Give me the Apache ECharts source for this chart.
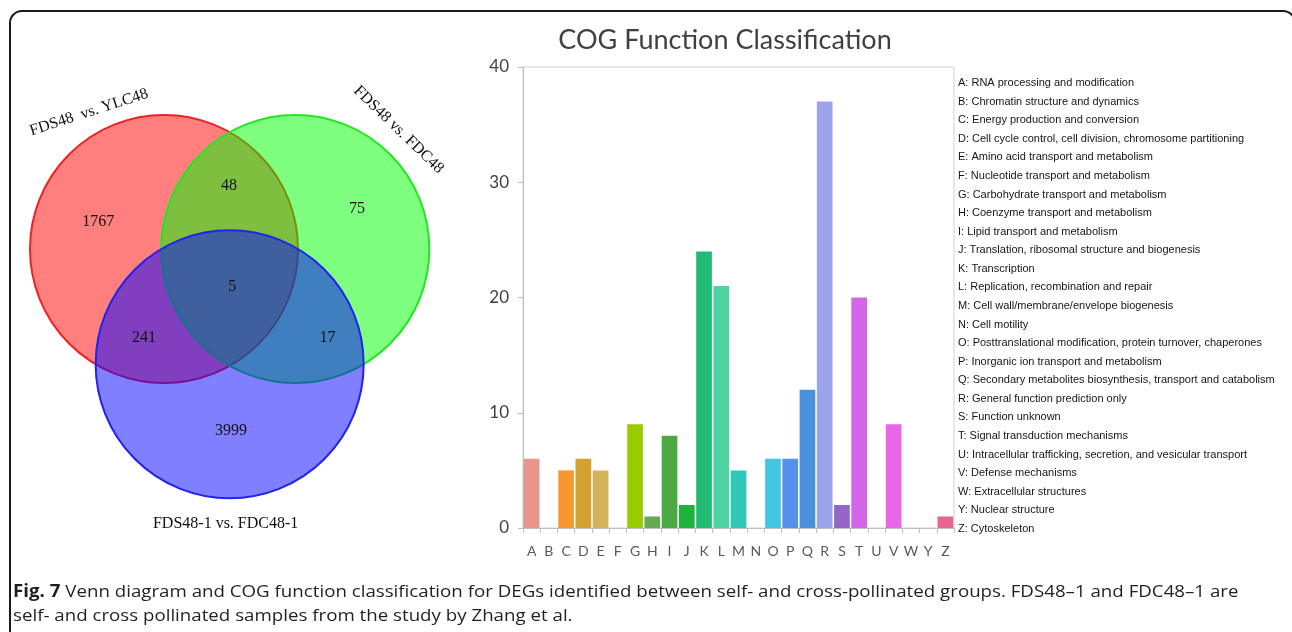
<!DOCTYPE html>
<html><head><meta charset="utf-8">
<script src="https://cdn.jsdelivr.net/npm/echarts@6.0.0/dist/echarts.min.js"></script>
<style>html,body{margin:0;padding:0;background:#fff}#c{width:1292px;height:632px}</style>
</head><body><div id="c"></div>
<script>
// ---- COG bar chart data ----
const categories = ['A','B','C','D','E','F','G','H','I','J','K','L','M','N','O','P','Q','R','S','T','U','V','W','Y','Z'];
const counts = [6,0,5,6,5,0,9,1,8,2,24,21,5,0,6,6,12,37,2,20,0,9,0,0,1];
const barColors = ['#e8968c','#e8968c','#f7982f','#d4a02e','#d4b25c','#d4b25c','#99cc00','#66aa55','#4caa44','#1db33a','#22bb73','#4dd4a0','#2fc8b8','#2fc8b8','#42c6e2','#5590ea','#4a90da','#9ba3eb','#9368c4','#d366e8','#d366e8','#e867e8','#e867e8','#e5658f','#e5658f'];
const yMin = 0, yMax = 40, yInterval = 10;
const descriptions = [
 'A: RNA processing and modification',
 'B: Chromatin structure and dynamics',
 'C: Energy production and conversion',
 'D: Cell cycle control, cell division, chromosome partitioning',
 'E: Amino acid transport and metabolism',
 'F: Nucleotide transport and metabolism',
 'G: Carbohydrate transport and metabolism',
 'H: Coenzyme transport and metabolism',
 'I: Lipid transport and metabolism',
 'J: Translation, ribosomal structure and biogenesis',
 'K: Transcription',
 'L: Replication, recombination and repair',
 'M: Cell wall/membrane/envelope biogenesis',
 'N: Cell motility',
 'O: Posttranslational modification, protein turnover, chaperones',
 'P: Inorganic ion transport and metabolism',
 'Q: Secondary metabolites biosynthesis, transport and catabolism',
 'R: General function prediction only',
 'S: Function unknown',
 'T: Signal transduction mechanisms',
 'U: Intracellular trafficking, secretion, and vesicular transport',
 'V: Defense mechanisms',
 'W: Extracellular structures',
 'Y: Nuclear structure',
 'Z: Cytoskeleton'
];
const chartTitle = 'COG Function Classification';

// ---- Venn diagram data (centres / radius in units of one circle radius) ----
const vennSetNames = ['FDS48  vs. YLC48', 'FDS48 vs. FDC48', 'FDS48-1 vs. FDC48-1'];
const vennCenters = [[0, 0], [0.98, 0], [0.49, 0.86]];
const vennRadius = [1, 1, 1];
const vennFill = ['rgba(255,0,0,0.5)', 'rgba(0,255,0,0.5)', 'rgba(0,0,255,0.5)'];
const vennStroke = ['#ee2222', '#22e622', '#2222ee'];
const vennSetLabelPos = [[-0.56, -1.02], [1.75, -0.89], [0.46, 2.05]];
const vennSetLabelAngle = [18, -44, 0];
const vennCounts = ['1767', '48', '75', '5', '241', '17', '3999'];
const vennCountPos = [[-0.49, -0.20], [0.485, -0.47], [1.44, -0.30], [0.51, 0.28], [-0.15, 0.66], [1.22, 0.66], [0.50, 1.36]];

const captionLine1 = 'Venn diagram and COG function classification for DEGs identified between self- and cross-pollinated groups. FDS48\u20131 and FDC48\u20131 are';
const captionLine2 = 'self- and cross pollinated samples from the study by Zhang et al.';

const chart = echarts.init(document.getElementById('c'), null, {renderer: 'canvas'});

const circleData = vennCenters.map((c, i) => [c[0], c[1], vennRadius[i], i]);
const countData = vennCountPos.map((p, i) => [p[0], p[1], i]);
const setLabelData = vennSetLabelPos.map((p, i) => [p[0], p[1], i]);

const legendGraphics = descriptions.map((d, i) => ({
  type: 'text', x: 958, y: 83 + i * 18.58,
  style: {text: d, font: '11px "Liberation Sans", Arial, sans-serif', fill: '#161616', verticalAlign: 'middle', align: 'left'}
}));

const option = {
  backgroundColor: '#ffffff',
  animation: false,
  grid: [
    {left: 3.2, top: 61.4, width: 455.6, height: 482.4, show: false},
    {left: 523, top: 67, width: 431, height: 461, show: true, borderColor: '#d0d0d0', borderWidth: 1, backgroundColor: 'transparent'}
  ],
  xAxis: [
    {gridIndex: 0, type: 'value', min: -1.2, max: 2.2, show: false},
    {gridIndex: 1, type: 'category', data: categories,
     axisLine: {show: true, lineStyle: {color: '#bfbfbf', width: 1}},
     axisTick: {show: true, length: 5, lineStyle: {color: '#bfbfbf'}},
     axisLabel: {color: '#595959', fontSize: 14, fontFamily: 'Lato, sans-serif', margin: 16, interval: 0}}
  ],
  yAxis: [
    {gridIndex: 0, type: 'value', min: -1.4, max: 2.2, inverse: true, show: false},
    {gridIndex: 1, type: 'value', min: yMin, max: yMax, interval: yInterval,
     axisLine: {show: true, lineStyle: {color: '#bfbfbf', width: 1}},
     axisTick: {show: true, length: 5, lineStyle: {color: '#bfbfbf'}},
     splitLine: {show: false},
     axisLabel: {color: '#404040', fontSize: 17, fontFamily: 'Lato, sans-serif', margin: 14}}
  ],
  series: [
    {
      type: 'custom', xAxisIndex: 0, yAxisIndex: 0, data: circleData, clip: false,
      renderItem: function (params, api) {
        const i = api.value(3);
        const c = api.coord([api.value(0), api.value(1)]);
        const s = api.size([api.value(2), api.value(2)]);
        return {type: 'circle', shape: {cx: c[0], cy: c[1], r: s[0]},
                style: {fill: vennFill[i], stroke: vennStroke[i], lineWidth: 2}};
      }
    },
    {
      type: 'custom', xAxisIndex: 0, yAxisIndex: 0, data: countData, clip: false, z: 5,
      renderItem: function (params, api) {
        const i = api.value(2);
        const c = api.coord([api.value(0), api.value(1)]);
        return {type: 'text', x: c[0], y: c[1],
                style: {text: vennCounts[i], font: '16px "Liberation Serif", "Times New Roman", serif', fill: '#111', align: 'center', verticalAlign: 'middle'}};
      }
    },
    {
      type: 'custom', xAxisIndex: 0, yAxisIndex: 0, data: setLabelData, clip: false, z: 5,
      renderItem: function (params, api) {
        const i = api.value(2);
        const c = api.coord([api.value(0), api.value(1)]);
        return {type: 'text', x: c[0], y: c[1], rotation: vennSetLabelAngle[i] * Math.PI / 180,
                style: {text: vennSetNames[i], font: '16px "Liberation Serif", "Times New Roman", serif', fill: '#111', align: 'center', verticalAlign: 'middle'}};
      }
    },
    {
      type: 'bar', xAxisIndex: 1, yAxisIndex: 1, barCategoryGap: '9%',
      data: counts.map((v, i) => ({value: v, itemStyle: {color: barColors[i]}}))
    }
  ],
  graphic: [
    {type: 'rect', shape: {x: 10, y: 11, width: 1285, height: 650, r: 12}, style: {fill: 'none', stroke: '#1a1a1a', lineWidth: 2}, z: 100},
    {type: 'text', x: 725, y: 40, style: {text: chartTitle, font: '27px Lato, sans-serif', fill: '#404040', align: 'center', verticalAlign: 'middle'}},
    {type: 'text', x: 13, y: 592, scaleX: 1.1, style: {text: '{b|Fig. 7} ' + captionLine1, font: '17px "Open Sans", sans-serif', fill: '#231f20', verticalAlign: 'middle',
      rich: {b: {fontWeight: 'bold', fontSize: 17, fontFamily: 'Open Sans', fill: '#231f20'}}}},
    {type: 'text', x: 13, y: 616, scaleX: 1.1, style: {text: captionLine2, font: '17px "Open Sans", sans-serif', fill: '#231f20', verticalAlign: 'middle'}}
  ].concat(legendGraphics)
};
chart.setOption(option);
</script></body></html>
